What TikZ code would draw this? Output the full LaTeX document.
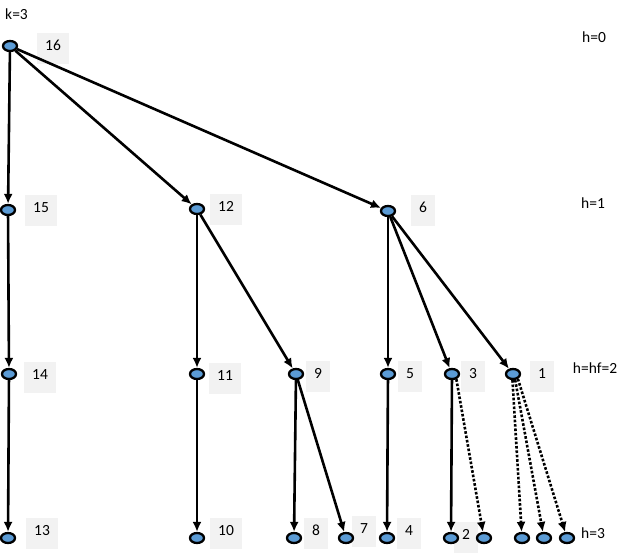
\documentclass[tikz,border=0pt]{standalone}
\usepackage{fontspec}
\setmainfont{Carlito}
\usepackage{tikz}
\usetikzlibrary{shapes.geometric,arrows.meta}
\definecolor{vertexblue}{HTML}{5B9BD5}
\definecolor{boxgray}{HTML}{F2F2F2}
\tikzset{
	heap tree/.style={
		x=1pt,y=-1pt, % pixel grid of the drawing
		font=\fontsize{15.5}{18}\selectfont,
		child edge/.style={
			line width=2.6pt,
			-{Latex[length=10pt,width=9pt]}
		},
		virtual edge/.style={
			child edge,
			dash pattern=on 2.6pt off 1.8pt
		}
	},
	vertex/.style={
		ellipse,
		draw,
		line width=2.3pt,
		fill=vertexblue,
		minimum width=14pt,
		minimum height=10pt,
		inner sep=0pt
	},
	number box/.style={
		rectangle,
		fill=boxgray,
		inner xsep=8pt,
		minimum height=31pt,
		text height=1.5ex,text depth=.25ex % adjust baselines
	},
	level label/.style={
		inner sep=0pt
	}
}

\begin{document}
\begin{tikzpicture}[heap tree]
		\useasboundingbox (0,0) rectangle (623,552);
		% numbers beside the vertices
		\node[number box] (b16) at (53,48) {16};
		\node[number box] (b15) at (41,210) {15};
		\node[number box] (b12) at (226,209) {12};
		\node[number box] (b6) at (423,210) {6};
		\node[number box] (b14) at (40,377) {14};
		\node[number box] (b11) at (225,378) {11};
		\node[number box] (b9) at (318,376) {9};
		\node[number box] (b5) at (410,376) {5};
		\node[number box] (b3) at (473,376) {3};
		\node[number box] (b1) at (542,376) {1};
		\node[number box] (b13) at (42,533) {13};
		\node[number box] (b10) at (226,533) {10};
		\node[number box] (b8) at (316,533) {8};
		\node[number box] (b7) at (364,531) {7};
		\node[number box] (b4) at (409,533) {4};
		\node[number box] (b2) at (466,537) {2};
		% vertices
		\node[vertex] (n16) at (10,46) {};
		\node[vertex] (n15) at (8,210) {};
		\node[vertex] (n12) at (197,209) {};
		\node[vertex] (n6) at (388,211) {};
		\node[vertex] (n14) at (9,374) {};
		\node[vertex] (n11) at (197,374) {};
		\node[vertex] (n9) at (296,374) {};
		\node[vertex] (n5) at (388,374) {};
		\node[vertex] (n3) at (452,374) {};
		\node[vertex] (n1) at (513,374) {};
		\node[vertex] (n13) at (8,538) {};
		\node[vertex] (n10) at (197,538) {};
		\node[vertex] (n8) at (294,538) {};
		\node[vertex] (n7) at (346,538) {};
		\node[vertex] (n4) at (387,538) {};
		\node[vertex] (n2) at (451,538) {};
		\node[vertex] (e1) at (484,538) {};
		\node[vertex] (e2) at (522,538) {};
		\node[vertex] (e3) at (544,538) {};
		\node[vertex] (e4) at (567,538) {};
		% edges
		\draw[child edge] (n16) -- (n15);
		\draw[child edge] (n16) -- (n12);
		\draw[child edge] (n16) -- (n6);
		\draw[child edge] (n15) -- (n14);
		\draw[child edge] (n12) -- (n11);
		\draw[child edge] (n12) -- (n9);
		\draw[child edge] (n6) -- (n5);
		\draw[child edge] (n6) -- (n3);
		\draw[child edge] (n6) -- (n1);
		\draw[child edge] (n14) -- (n13);
		\draw[child edge] (n11) -- (n10);
		\draw[child edge] (n9) -- (n8);
		\draw[child edge] (n9) -- (n7);
		\draw[child edge] (n5) -- (n4);
		\draw[child edge] (n3) -- (n2);
		\draw[virtual edge] (n3.-50) -- (e1);
		\draw[virtual edge] (n1.-95) -- (e2);
		\draw[virtual edge] (n1.-70) -- (e3);
		\draw[virtual edge] (n1.-45) -- (e4);
		% heights
		\node[level label,anchor=west] (k) at (5,14) {k=3};
		\node[level label] (h0) at (594,37) {h=0};
		\node[level label] (h1) at (593,203) {h=1};
		\node[level label] (h2) at (595,368) {h=hf=2};
		\node[level label] (h3) at (593,533) {h=3};
	\end{tikzpicture}
\end{document}
